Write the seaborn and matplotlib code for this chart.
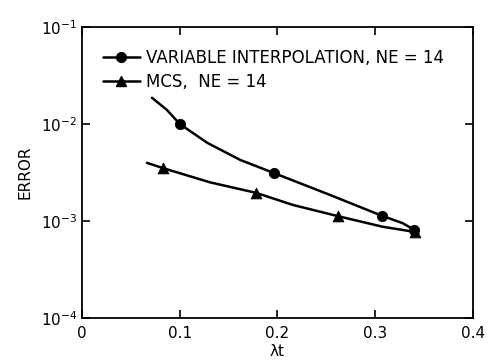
import numpy as np
import pandas as pd
import matplotlib
matplotlib.use("Agg")
import matplotlib.pyplot as plt
import seaborn as sns
from matplotlib.lines import Line2D
from matplotlib.ticker import LogLocator, LogFormatterMathtext, FixedLocator, NullLocator

# Curve traces
vi_curve_x = [0.0716, 0.087, 0.100, 0.128, 0.162, 0.197, 0.254, 0.307, 0.328, 0.340]
vi_curve_y = [1.86e-2, 1.39e-2, 1.0e-2, 6.4e-3, 4.25e-3, 3.1e-3, 1.85e-3, 1.13e-3, 9.5e-4, 8.1e-4]
mcs_curve_x = [0.0665, 0.083, 0.131, 0.178, 0.216, 0.262, 0.308, 0.341]
mcs_curve_y = [3.97e-3, 3.5e-3, 2.5e-3, 1.95e-3, 1.46e-3, 1.12e-3, 8.7e-4, 7.7e-4]

# Marker points
vi_x = [0.100, 0.197, 0.307, 0.340]
vi_y = [1.0e-2, 3.1e-3, 1.13e-3, 8.1e-4]
mcs_x = [0.083, 0.178, 0.262, 0.341]
mcs_y = [3.5e-3, 1.95e-3, 1.12e-3, 7.7e-4]

labels = ["VARIABLE INTERPOLATION, NE = 14", "MCS,  NE = 14"]
x_ticks = [0, 0.1, 0.2, 0.3, 0.4]
x_tick_labels = ["0", "0.1", "0.2", "0.3", "0.4"]

sns.set_theme(style="ticks")
plt.rcParams['font.family'] = ['DejaVu Sans']
plt.rcParams['text.color'] = 'black'

fig = plt.figure(figsize=(4.88, 3.63), dpi=100)
ax = fig.add_axes([0.168, 0.124, 0.801, 0.802])

curves = pd.concat([
    pd.DataFrame({"x": vi_curve_x, "y": vi_curve_y, "s": labels[0]}),
    pd.DataFrame({"x": mcs_curve_x, "y": mcs_curve_y, "s": labels[1]}),
])
sns.lineplot(data=curves, x="x", y="y", units="s", estimator=None, sort=False,
             color="black", lw=1.8, ax=ax, legend=False)
sns.scatterplot(x=vi_x, y=vi_y, marker="o", s=55, color="black", edgecolor="black", ax=ax, legend=False, zorder=3)
sns.scatterplot(x=mcs_x, y=mcs_y, marker="^", s=60, color="black", edgecolor="black", ax=ax, legend=False, zorder=3)

ax.set_yscale("log")
ax.set_ylim(1e-4, 1e-1)
ax.set_xlim(0, 0.4)
ax.xaxis.set_major_locator(FixedLocator(x_ticks))
ax.set_xticklabels(x_tick_labels)
ax.yaxis.set_major_locator(LogLocator(base=10, numticks=10))
ax.yaxis.set_major_formatter(LogFormatterMathtext())
ax.yaxis.set_minor_locator(NullLocator())
ax.tick_params(direction="in", length=6, width=1.2, top=True, right=True, labelsize=11, colors="black")
ax.tick_params(axis="x", pad=6)
for sp in ax.spines.values():
    sp.set_linewidth(1.3)
    sp.set_color("black")

ax.set_xlabel("λt", fontsize=11, labelpad=2, color="black")
ax.set_ylabel("ERROR", fontsize=11, labelpad=6, color="black")

handles = [
    Line2D([], [], color="black", lw=1.8, marker="o", markersize=7),
    Line2D([], [], color="black", lw=1.8, marker="^", markersize=7),
]
leg = ax.legend(handles, labels, loc="upper left", bbox_to_anchor=(0.015, 0.975), frameon=False,
                fontsize=12, handlelength=2.2, handletextpad=0.4, labelspacing=0.35)
for t in leg.get_texts():
    t.set_color("black")

fig.savefig("out.png", dpi=100)
